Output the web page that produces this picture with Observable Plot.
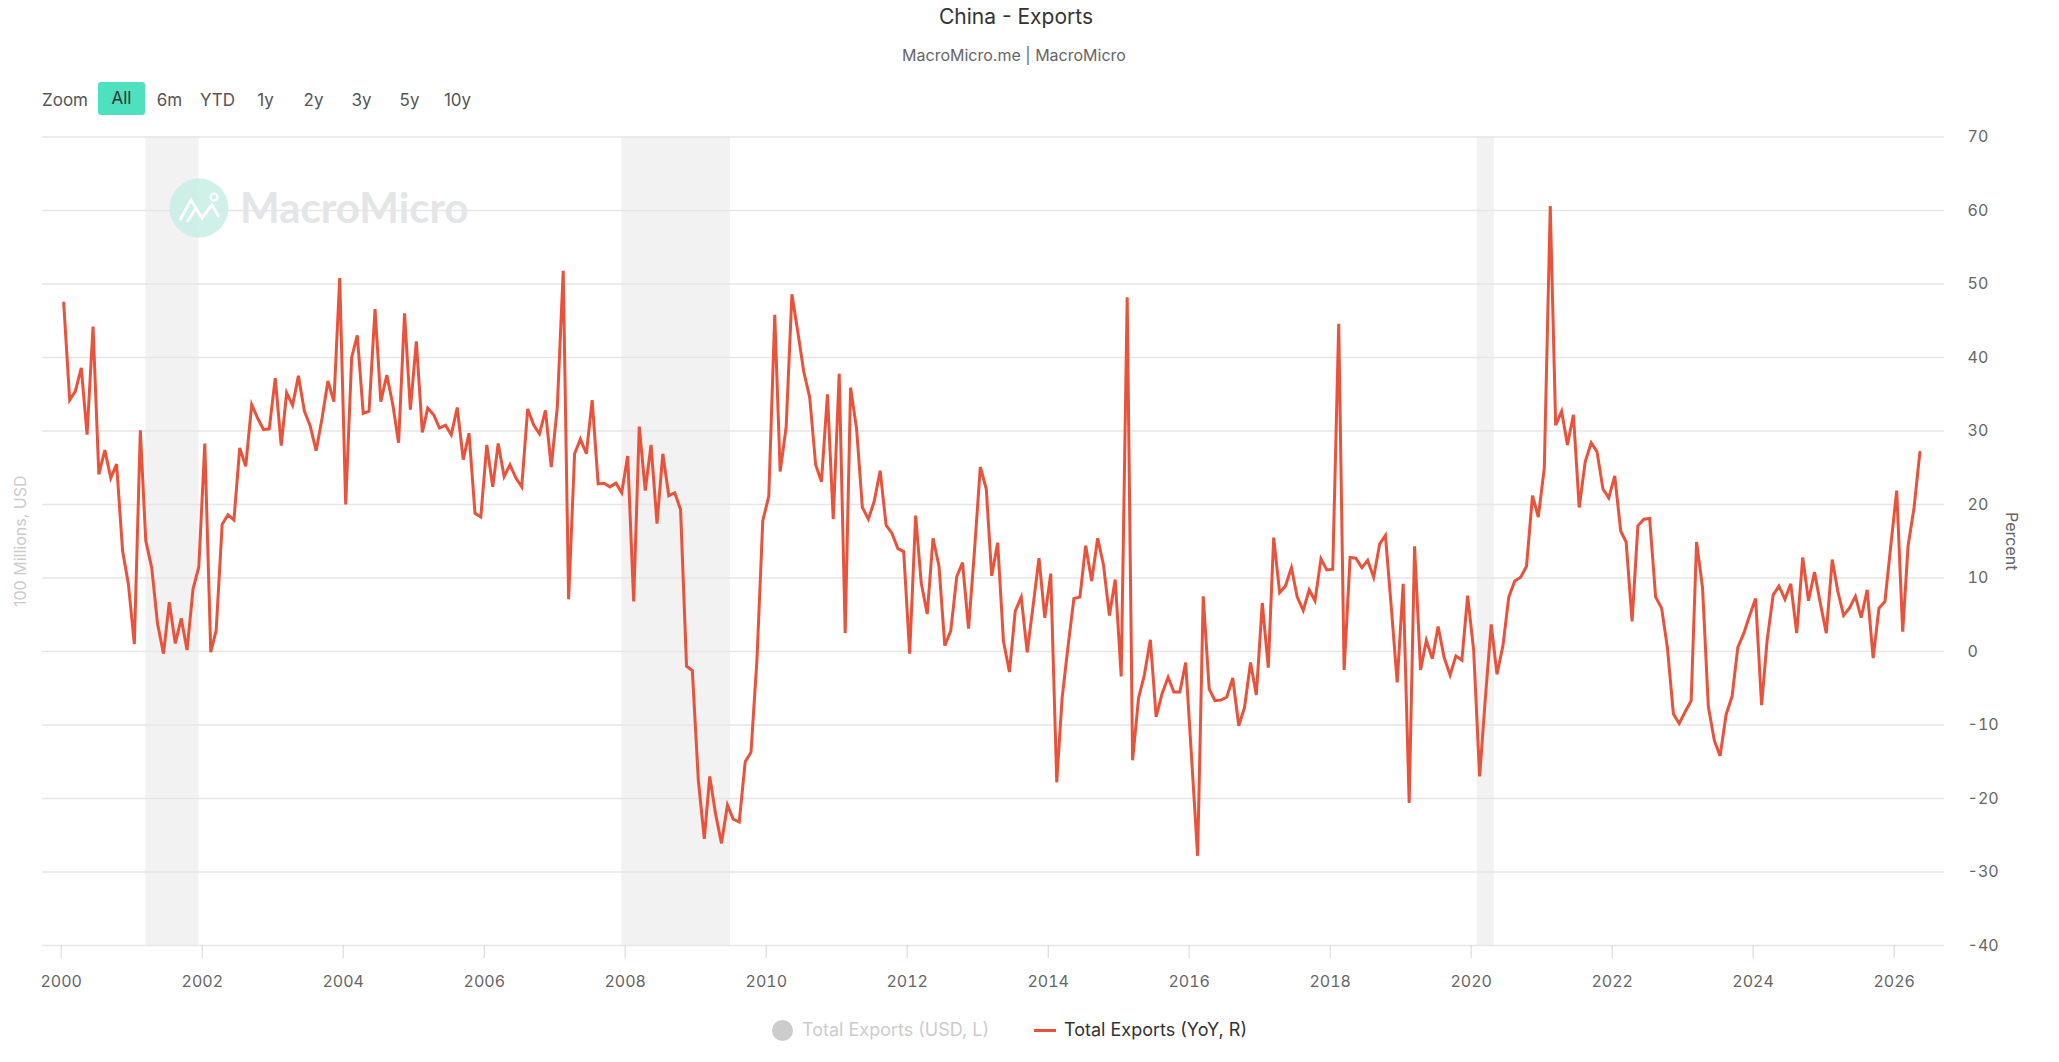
<!DOCTYPE html>
<html>
<head>
<meta charset="utf-8">
<script src="https://cdn.jsdelivr.net/npm/d3@7"></script>
<script src="https://cdn.jsdelivr.net/npm/@observablehq/plot@0.6"></script>
<style>
  html, body { margin: 0; padding: 0; background: #fff; }
  body { width: 2059px; height: 1062px; position: relative; overflow: hidden; font-family: Inter, Roboto, "Noto Sans", sans-serif; }
  .abs { position: absolute; white-space: nowrap; }
  #title { top: 4px; left: 0; width: 2032px; text-align: center; font-size: 21px; color: #333; line-height: 26px; }
  #subtitle { top: 45px; left: 0; width: 2028px; text-align: center; font-size: 16px; color: #666; line-height: 20px; }
  .zbtn { top: 85px; height: 30px; line-height: 30px; font-size: 17px; color: #555; text-align: center; }
  #chart { position: absolute; top: 120px; left: 0; }
  #legend .item { position: absolute; font-size: 18px; line-height: 24px; top: 1018px; }
</style>
</head>
<body>
<div id="title" class="abs"></div>
<div id="subtitle" class="abs"></div>
<div id="zoombar"></div>
<div id="chart"></div>
<svg class="abs" style="left:160px;top:170px;pointer-events:none" width="330" height="80">
  <circle cx="39" cy="38" r="29.5" fill="#c7efe5" opacity="0.85"></circle>
  <polyline points="20,50 31,30 42,48 52,35 59,47" fill="none" stroke="#fff" stroke-width="3" opacity="0.9"></polyline>
  <polyline points="27,52 36,38" fill="none" stroke="#fff" stroke-width="3" opacity="0.9"></polyline>
  <circle cx="54" cy="27" r="3.5" fill="none" stroke="#fff" stroke-width="2.5" opacity="0.9"></circle>
  <text x="80" y="53" font-family="Lato, 'Open Sans', sans-serif" font-weight="700" font-size="42" fill="#e4e5e7">MacroMicro</text>
</svg>
<div id="legend"></div>
<script>
// ---------- data ----------
const chartTitle = "China - Exports";
const chartSubtitle = "MacroMicro.me | MacroMicro";
const zoomButtons = ["All", "6m", "YTD", "1y", "2y", "3y", "5y", "10y"];
const legendLabels = ["Total Exports (USD, L)", "Total Exports (YoY, R)"];
const leftAxisTitle = "100 Millions, USD";
const rightAxisTitle = "Percent";

const firstYear = 2000; // monthly values from Jan 2000
const yoyValues = [
  47.4, 34.2, 35.4, 38.6, 29.5, 44.2, 24.1, 27.4, 23.6, 25.5, 13.7, 9.2,   // 2000
  1.0, 30.1, 15.1, 11.4, 3.8, -0.3, 6.7, 1.1, 4.5, 0.2, 8.5, 11.5,         // 2001
  28.3, -0.1, 2.9, 17.3, 18.6, 17.9, 27.7, 25.2, 33.6, 31.8, 30.2, 30.3,   // 2002
  37.2, 28.0, 35.2, 33.5, 37.5, 32.7, 30.7, 27.3, 31.8, 36.8, 34.0, 50.8,  // 2003
  20.0, 40.0, 43.0, 32.4, 32.7, 46.6, 34.0, 37.6, 33.6, 28.4, 46.0, 32.9,  // 2004
  42.2, 29.8, 33.1, 32.2, 30.4, 30.8, 29.5, 33.2, 26.1, 29.7, 18.8, 18.3,  // 2005
  28.1, 22.4, 28.3, 23.8, 25.4, 23.6, 22.4, 33.0, 30.8, 29.6, 32.8, 25.1,  // 2006
  33.1, 51.8, 7.1, 26.9, 28.9, 26.9, 34.2, 22.8, 22.9, 22.4, 22.9, 21.6,   // 2007
  26.6, 6.8, 30.6, 21.9, 28.1, 17.4, 26.9, 21.2, 21.6, 19.3, -2.0, -2.6,   // 2008
  -17.5, -25.5, -17.0, -22.2, -26.1, -20.9, -22.8, -23.2, -15.0, -13.7, -1.0, 17.8, // 2009
  21.1, 45.8, 24.5, 30.5, 48.6, 43.4, 38.1, 34.6, 25.4, 23.1, 35.0, 18.0,  // 2010
  37.8, 2.5, 35.9, 30.3, 19.6, 18.0, 20.4, 24.6, 17.2, 16.1, 14.0, 13.6,   // 2011
  -0.3, 18.5, 9.3, 5.1, 15.4, 11.6, 0.8, 2.8, 10.2, 12.1, 3.1, 13.4,       // 2012
  25.1, 22.1, 10.3, 14.8, 1.4, -2.8, 5.5, 7.4, -0.1, 6.1, 12.7, 4.6,       // 2013
  10.6, -17.8, -6.3, 0.8, 7.2, 7.4, 14.4, 9.6, 15.4, 11.8, 4.9, 9.8,       // 2014
  -3.4, 48.2, -14.8, -6.3, -3.2, 1.6, -8.9, -5.7, -3.5, -5.5, -5.5, -1.5,  // 2015
  -14.6, -27.8, 7.5, -5.1, -6.7, -6.6, -6.2, -3.6, -10.1, -7.6, -1.5, -5.9, // 2016
  6.6, -2.2, 15.5, 8.0, 8.9, 11.4, 7.4, 5.6, 8.4, 6.9, 12.6, 11.1,         // 2017
  11.2, 44.6, -2.5, 12.8, 12.7, 11.4, 12.4, 10.1, 14.6, 15.8, 5.8, -4.2,   // 2018
  9.2, -20.6, 14.3, -2.5, 1.5, -1.0, 3.4, -0.8, -3.2, -0.6, -1.2, 7.6,     // 2019
  0.2, -17.0, -6.6, 3.7, -3.1, 0.8, 7.4, 9.6, 10.1, 11.6, 21.2, 18.3,      // 2020
  24.9, 60.6, 30.8, 32.7, 28.1, 32.2, 19.6, 25.8, 28.4, 27.2, 22.1, 20.9,  // 2021
  23.9, 16.4, 14.9, 4.1, 17.1, 18.0, 18.1, 7.4, 5.9, 0.5, -8.5, -9.8,      // 2022
  -8.2, -6.7, 14.9, 8.7, -7.5, -12.1, -14.2, -8.6, -6.1, 0.6, 2.5, 4.9,    // 2023
  7.2, -7.3, 1.6, 7.7, 8.9, 7.1, 9.2, 2.5, 12.8, 6.9, 10.8, 6.6,           // 2024
  2.5, 12.5, 8.3, 4.9, 5.9, 7.5, 4.6, 8.4, -0.9, 5.9, 6.8, 14.3,           // 2025
  21.9, 2.7, 14.4, 19.6, 27.1                                              // 2026
];

const recessionStarts = ["2001-03-15", "2007-12-15", "2020-02-01"];
const recessionEnds   = ["2001-12-15", "2009-06-30", "2020-04-30"];

const yTicks = [-40, -30, -20, -10, 0, 10, 20, 30, 40, 50, 60, 70];
const xTickYears = [2000, 2002, 2004, 2006, 2008, 2010, 2012, 2014, 2016, 2018, 2020, 2022, 2024, 2026];

// ---------- build ----------
const lineColor = "#e9533b";
const fontStack = "Inter, Roboto, 'Noto Sans', sans-serif";
const series = yoyValues.map((v, i) => ({ date: new Date(Date.UTC(firstYear, i, 14)), value: v }));
const bands = recessionStarts.map((s, i) => ({ start: new Date(s), end: new Date(recessionEnds[i]) }));
const xTicks = xTickYears.map(y => new Date(Date.UTC(y, 0, 1)));

// header
document.getElementById("title").textContent = chartTitle;
document.getElementById("subtitle").textContent = chartSubtitle;
const zb = document.getElementById("zoombar");
const zl = document.createElement("div");
zl.className = "abs zbtn"; zl.style.left = "42px"; zl.style.textAlign = "left"; zl.textContent = "Zoom";
zb.appendChild(zl);
zoomButtons.forEach((b, i) => {
  const d = document.createElement("div");
  d.className = "abs zbtn";
  d.style.left = (98 + i * 48) + "px";
  d.style.width = "47px";
  d.textContent = b;
  if (i === 0) { d.style.background = "#4fe0c0"; d.style.borderRadius = "3px"; d.style.color = "#333"; d.style.top = "82px"; d.style.height = "33px"; d.style.lineHeight = "33px"; }
  zb.appendChild(d);
});

// x domain so that axis ticks fall at the reference's spacing
const plotLeft = 42, plotRight = 1944, t0px = 60.7, t1px = 1893.7;
const t0 = Date.UTC(2000, 0, 1), t1 = Date.UTC(2026, 0, 1);
const msPerPx = (t1 - t0) / (t1px - t0px);
const xDomain = [new Date(t0 - (t0px - plotLeft) * msPerPx), new Date(t1 + (plotRight - t1px) * msPerPx)];

const chart = Plot.plot({
  width: 2059,
  height: 880,
  marginTop: 16.5,
  marginBottom: 55,
  marginLeft: plotLeft,
  marginRight: 2059 - plotRight,
  style: { fontFamily: fontStack, fontSize: "16px", background: "transparent" },
  x: { type: "utc", domain: xDomain, axis: null },
  y: { domain: [-40, 70], axis: null },
  marks: [
    Plot.rect(bands, { x1: "start", x2: "end", fill: "#f2f2f2" }),
    Plot.ruleY(yTicks, { stroke: "#e6e6e6", strokeWidth: 1.3 }),
    Plot.axisX(xTicks, {
      anchor: "bottom", tickSize: 13, tickPadding: 17,
      tickFormat: d => String(d.getUTCFullYear()),
      stroke: "#d6d6d6", fill: "#666", fontSize: 16, label: null
    }),
    Plot.axisY(yTicks, {
      anchor: "right", tickSize: 0, tickPadding: 23,
      tickFormat: d => String(d), fill: "#666", fontSize: 16, label: null
    }),
    Plot.text([leftAxisTitle], { frameAnchor: "left", textAnchor: "middle", dx: -22, rotate: -90, fill: "#cccccc", fontSize: 16 }),
    Plot.text([rightAxisTitle], { frameAnchor: "right", textAnchor: "middle", dx: 67, rotate: 90, fill: "#666", fontSize: 16 }),
    Plot.line(series, { x: "date", y: "value", stroke: lineColor, strokeWidth: 3, strokeLinejoin: "miter", strokeMiterlimit: 4 })
  ]
});
document.getElementById("chart").appendChild(chart);

// legend
const lg = document.getElementById("legend");
const dot = document.createElement("div");
dot.className = "abs"; Object.assign(dot.style, { left: "771.5px", top: "1019.5px", width: "21px", height: "21px", borderRadius: "50%", background: "#cccccc" });
lg.appendChild(dot);
const t1el = document.createElement("div");
t1el.className = "abs item"; t1el.style.left = "802px"; t1el.style.color = "#cccccc"; t1el.textContent = legendLabels[0];
lg.appendChild(t1el);
const ln = document.createElement("div");
ln.className = "abs"; Object.assign(ln.style, { left: "1034px", top: "1028.5px", width: "22px", height: "3px", background: lineColor });
lg.appendChild(ln);
const t2el = document.createElement("div");
t2el.className = "abs item"; t2el.style.left = "1064px"; t2el.style.color = "#333"; t2el.textContent = legendLabels[1];
lg.appendChild(t2el);
</script>
</body>
</html>
